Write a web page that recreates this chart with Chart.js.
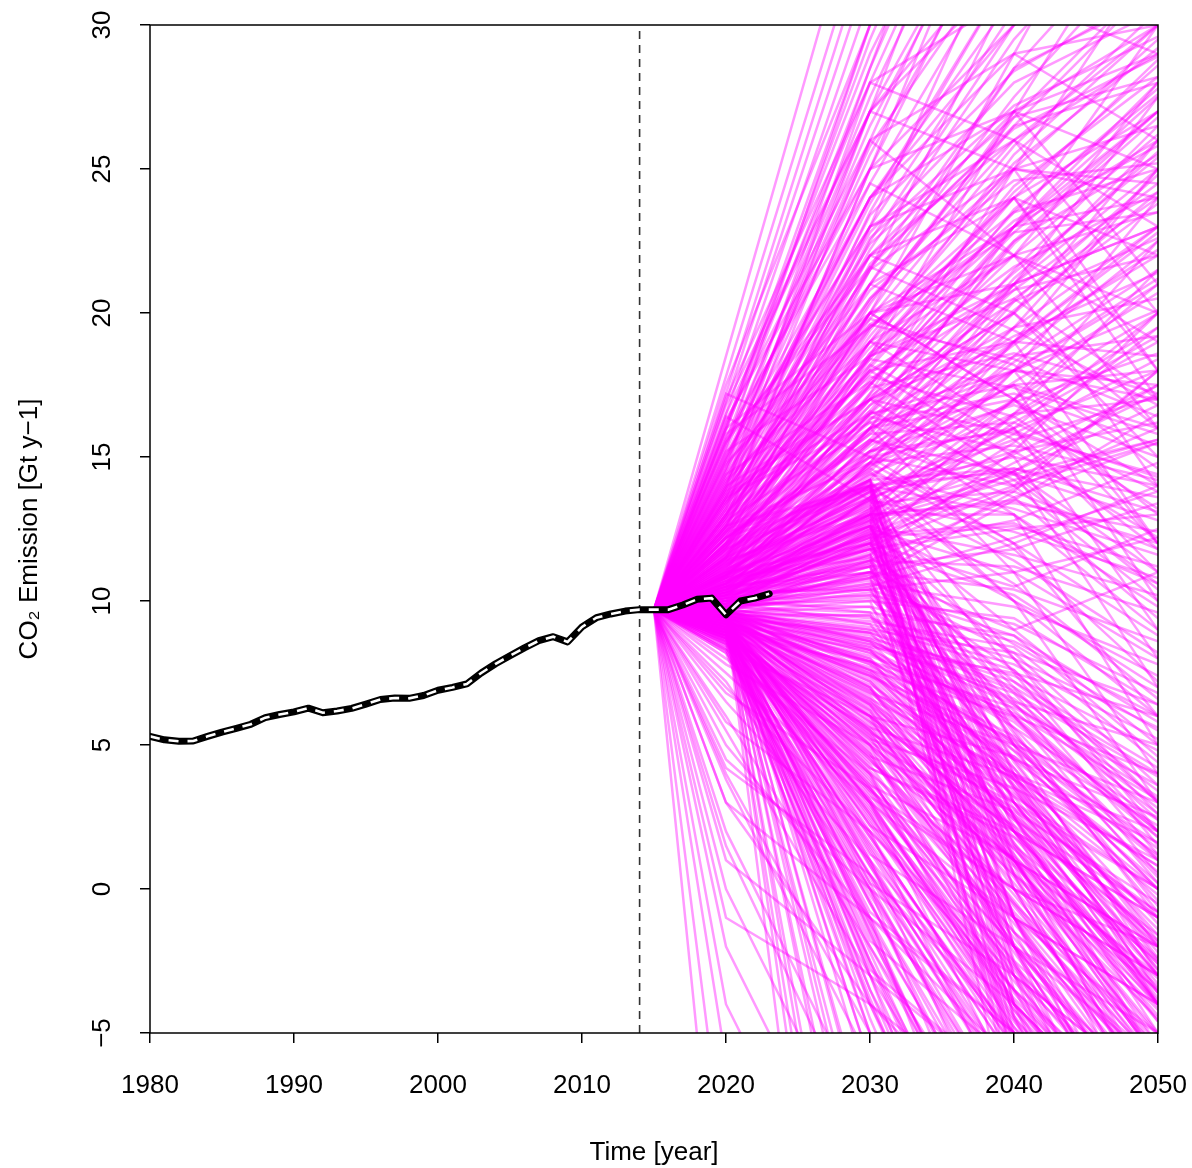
<!DOCTYPE html>
<html lang="en">
<head>
    <meta charset="UTF-8">
    <title>CO2 Emission scenarios</title>
    <script src="https://cdn.jsdelivr.net/npm/chart.js"></script>
    <style>
        body {
            margin: 0;
            padding: 0;
            background: #ffffff;
        }
        #chart {
            display: block;
        }
    </style>
</head>
<body>
    <canvas id="chart" width="1192" height="1168"></canvas>

    <script>
        // Observed emissions
        const histYears = [1980, 1981, 1982, 1983, 1984, 1985, 1986, 1987, 1988, 1989,
                           1990, 1991, 1992, 1993, 1994, 1995, 1996, 1997, 1998, 1999,
                           2000, 2001, 2002, 2003, 2004, 2005, 2006, 2007, 2008, 2009,
                           2010, 2011, 2012, 2013, 2014, 2015, 2016, 2017, 2018, 2019,
                           2020, 2021, 2022, 2023];
        const histValues = [5.30, 5.18, 5.13, 5.14, 5.30, 5.45, 5.58, 5.72, 5.95, 6.06,
                            6.15, 6.28, 6.12, 6.18, 6.27, 6.42, 6.58, 6.63, 6.62, 6.72,
                            6.90, 7.00, 7.12, 7.50, 7.82, 8.10, 8.37, 8.62, 8.76, 8.58,
                            9.10, 9.42, 9.55, 9.65, 9.70, 9.70, 9.70, 9.86, 10.06, 10.10,
                            9.52, 10.00, 10.10, 10.25];

        const cutYear = 2014;

        // Scenario fan: every line starts from the 2015 value
        const fanYears = [2015, 2020, 2030, 2040, 2050];
        const fanStart = 9.7;
        // values for 2020, 2030, 2040, 2050
        const fanRows = [
            // growth
            [18.5, 36, 52, 68], [17.8, 34, 50, 64], [17.2, 33, 47, 60], [16.5, 31, 44, 56],
            [16.0, 30, 42, 52], [15.6, 28.5, 40, 50], [15.2, 27.5, 38, 47], [14.8, 26.5, 36, 44],
            [14.5, 25.5, 34.5, 42], [14.1, 24.5, 33, 40], [13.8, 23.8, 32, 38.5], [13.5, 23, 30.5, 37],
            [13.2, 22.2, 29.5, 35], [13.0, 21.5, 28.5, 34], [12.8, 21, 27.5, 33], [12.6, 20.4, 26.5, 31.5],
            [12.4, 19.8, 25.8, 30.5], [12.2, 19.2, 25, 29.5], [12.0, 18.6, 24.2, 28.6], [11.8, 18.1, 23.5, 27.8],
            [11.7, 17.6, 22.8, 27], [11.5, 17.2, 22, 26.2], [11.4, 16.8, 21.4, 25.4], [11.2, 16.3, 20.8, 24.5],
            [11.1, 15.9, 20.1, 23.8], [11.0, 15.5, 19.5, 23], [10.9, 15.1, 18.9, 22.2], [10.8, 14.7, 18.3, 21.5],
            [10.7, 14.3, 17.6, 20.7], [10.6, 13.9, 17, 20], [10.5, 13.5, 16.4, 19.2], [10.4, 13.1, 15.8, 18.4],
            [10.3, 12.7, 15.1, 17.5], [10.2, 12.3, 14.5, 16.8], [10.1, 11.9, 13.9, 16],
            [17.5, 30, 38, 42], [16.8, 27, 33, 35], [15.9, 29.5, 41, 48], [14.0, 28, 39, 49],
            [13.6, 26, 37, 45], [15.0, 24, 31, 36], [16.2, 26, 29, 30], [14.4, 22, 27, 29],
            [13.3, 25, 35, 43], [12.9, 23.5, 32, 36], [12.5, 22.5, 30, 34.5], [12.3, 21, 28.5, 31],
            [11.9, 20, 27, 30], [13.9, 20, 23, 24], [14.7, 21, 24, 22], [12.7, 18, 21, 23],
            [11.6, 19, 25.5, 30], [11.3, 18.2, 24, 28.8], [10.9, 17, 23, 27.5], [10.6, 16, 21.5, 26.5],
            [10.4, 15.2, 20, 24.2], [10.2, 14.2, 18.5, 22.5], [10.0, 13.2, 17, 21], [9.9, 12.4, 15.5, 19.5],
            [16.9, 32, 45, 55], [16.1, 29, 39, 45], [15.4, 27, 36, 41], [14.9, 25.8, 33, 37], [14.3, 24, 30, 33],
            [13.9, 22.8, 28, 30.5], [13.4, 21.6, 26.5, 28], [12.9, 20.5, 25, 26.5], [12.5, 19.5, 23.5, 25], [12.1, 18.6, 22, 23.5],
            [11.8, 17.7, 20.8, 22], [11.5, 16.8, 19.5, 20.5], [11.2, 16, 18.5, 19.2], [10.9, 15.2, 17.5, 18], [10.6, 14.4, 16.5, 17],
            [15.3, 30, 45, 58], [14.6, 28.5, 42, 55], [13.9, 27, 40, 52], [13.2, 25, 37, 48], [12.6, 23, 34, 45],
            [12.0, 21.5, 31.5, 41], [11.5, 20, 29, 38], [11.0, 18.5, 27, 35], [10.6, 17.2, 25, 32.5], [10.3, 16, 23, 30],
            [10.1, 14.8, 21, 27.5], [9.9, 13.6, 19, 25], [9.8, 12.5, 17, 22.5], [9.8, 11.6, 15.2, 20], [9.7, 11, 13.8, 18],
            [17.0, 28, 31, 29], [16.3, 25, 27, 25], [15.1, 23, 26, 23], [14.2, 21.5, 25, 24.5], [13.6, 20.5, 26, 29],
            [13.0, 19.5, 24, 27], [12.4, 18.5, 23, 26], [11.9, 17.5, 22.5, 25.5], [11.3, 16.5, 21, 23], [10.8, 15.5, 20.5, 24],
            [10.5, 14.5, 19, 22.8], [10.2, 13.6, 18, 21.2], [10.0, 12.8, 16.2, 19], [9.9, 12.1, 14.8, 17.2], [9.8, 11.4, 13.6, 15.5],
            [13.6, 23.4, 28.4, 31.2], [13.1, 22.6, 27.2, 29.6], [12.6, 21.7, 26.4, 28.9], [12.2, 20.3, 26.8, 31.8], [11.8, 19.4, 25.2, 29.2],
            [11.5, 18.4, 24.4, 28.2], [11.1, 17.5, 23.6, 27.6], [10.8, 16.6, 22.4, 26.8], [10.5, 15.6, 21.2, 25.6], [10.2, 14.8, 20.4, 24.8],
            // plateau and crossing
            [12.0, 17, 20, 16], [13.0, 19, 18, 12], [11.5, 16, 17, 13], [12.5, 18, 15, 8],
            [14.0, 17, 14, 10], [11.0, 14, 15, 14], [10.8, 13, 13.5, 12], [11.3, 15, 12, 6],
            [12.8, 16, 11, 4], [13.5, 20, 22, 19], [15.5, 22, 20, 15], [14.2, 19, 16, 11],
            [11.8, 14.5, 10, 3], [10.5, 12.5, 11, 8], [10.3, 11.8, 12.5, 13], [16.0, 20, 17, 12],
            [15.2, 18.5, 21, 25], [12.2, 15.5, 19, 22], [11.1, 13.8, 16, 18], [10.7, 12.2, 14, 15.5],
            [13.7, 16.5, 18, 17], [12.6, 14, 13, 9], [17.2, 15, 18, 21], [16.4, 13.5, 16, 20],
            [15.8, 19.5, 23, 27], [14.9, 23, 25, 24], [13.1, 17.5, 23, 28], [12.1, 16.5, 22.5, 27],
            [11.7, 15.8, 21, 26], [10.9, 14.6, 19.5, 25], [10.4, 13, 18, 24], [10.1, 12, 16.5, 21.5],
            [14.5, 24, 27, 21], [13.7, 22, 24, 17], [13.0, 20, 21, 14], [12.3, 18, 19, 12], [11.6, 16.5, 17.5, 10],
            [11.0, 15, 16, 9], [10.6, 14, 14.5, 7], [10.3, 13, 13, 5], [16.5, 27, 25, 18], [15.7, 24.5, 22, 16],
            [12.8, 19, 22, 20], [11.9, 17, 19, 18.5], [11.4, 16, 18, 17.5], [10.9, 14.8, 17.5, 16],
            [15, 26, 22, 28], [14, 24, 29, 26], [16, 28, 26, 30], [13, 22, 26, 20],
            [12, 19, 24, 18], [15.5, 25, 30, 34], [14.6, 27, 32, 31], [13.4, 21, 19, 23],
            [12.7, 20, 17, 14], [11.9, 18.5, 20.5, 17], [13.8, 17, 20, 26], [12.3, 15, 14, 18],
            [11.4, 13, 16.5, 19.5], [10.8, 12, 14.5, 17.5],
            [10.5, 11, 9, 11], [10.2, 10.5, 12, 14], [11.0, 12, 10.5, 12.5], [10.8, 11.5, 8.5, 5.5], [10.1, 10.8, 13.5, 16.5],
            [11.4, 13.2, 14.5, 11], [12.2, 15.2, 16.8, 15], [10.7, 11.8, 10.2, 7],
            [12.9, 18.8, 23.2, 25.8], [12.4, 17.9, 21.6, 24.2], [12.0, 17.1, 20.4, 22.6], [11.6, 16.3, 19.2, 21.4], [11.2, 15.4, 18.0, 20.1],
            [10.9, 14.7, 16.9, 18.6], [10.6, 13.8, 15.6, 17.1], [10.3, 12.9, 14.4, 15.6], [13.3, 19.6, 22.8, 23.5], [13.8, 20.8, 24.6, 25.2],
            [14.3, 22.4, 26.8, 28.2], [12.7, 17.4, 18.6, 17.2], [12.2, 16.2, 17.2, 15.4], [11.7, 15.2, 15.9, 14.3], [11.2, 14.2, 14.6, 13.1],
            [10.8, 13.4, 13.8, 11.8], [10.4, 12.3, 12.7, 10.6], [13.5, 17.8, 16.4, 13.2], [14.8, 19.8, 18.2, 14.6], [15.6, 21.6, 19.4, 16.8],
            [11.9, 15.6, 13.6, 9.4], [12.6, 16.6, 14.2, 10.6], [13.2, 18.2, 15.6, 11.8], [11.4, 14.6, 11.8, 7.2], [10.9, 13.6, 10.6, 6.6],
            [10.4, 11.4, 11.2, 9.6], [10.6, 12.2, 12.6, 11.2], [10.9, 13.0, 13.4, 12.4], [11.2, 13.8, 14.6, 13.6], [11.6, 14.8, 15.4, 14.2],
            [12.0, 15.8, 16.2, 13.8], [12.4, 16.4, 15.2, 12.2], [10.3, 11.0, 10.4, 8.6], [10.1, 10.6, 9.8, 7.8], [10.0, 10.2, 9.2, 6.8],
            [9.9, 9.8, 8.6, 6.0], [9.8, 9.4, 8.0, 5.6], [10.7, 12.6, 11.6, 10.2], [11.1, 13.5, 12.4, 10.8], [11.5, 14.4, 13.2, 11.6],
            [12.2, 15.6, 14.4, 12.8], [12.9, 17.0, 15.8, 14.4], [13.4, 18.4, 17.4, 15.8], [14.1, 19.6, 18.4, 16.4], [10.5, 11.8, 12.8, 14.8],
            [10.2, 11.2, 11.8, 13.4], [10.9, 12.8, 14.2, 15.6], [11.3, 13.6, 15.2, 16.2], [9.9, 10.4, 11.0, 12.2], [10.0, 10.8, 12.2, 13.8],
            [12.6, 14.8, 12.0, 8.8], [13.6, 16.2, 13.0, 9.8], [14.4, 17.6, 14.4, 10.4], [11.8, 13.9, 11.4, 8.2], [11.0, 12.6, 10.0, 7.4],
            // peak around 2030, then decline
            [11.5, 14.2, 4, -4], [11.2, 14, 2, -6], [11.0, 13.8, 0, -8], [10.8, 13.5, -2, -10],
            [10.6, 13.2, 3, -3], [10.5, 13, 5, 0], [10.4, 12.8, -4, -12], [10.3, 12.6, 1, -5],
            [10.2, 12.4, 6, 1], [10.1, 12.2, -1, -9], [10.0, 12, 2.5, -4], [9.9, 11.8, 4.5, -2],
            [9.9, 11.5, -3, -11], [9.8, 11.3, 0.5, -7], [9.8, 11, 3, -3], [10.2, 11.8, 7, 2],
            [10.4, 12.5, 8, 3], [10.6, 13, 9, 5], [11.0, 13.5, 7.5, 1.5], [11.4, 14.1, 10, 6],
            [12.0, 14.2, 8, 2], [12.5, 14.0, 5, -3], [9.7, 10.8, -2, -10], [9.7, 10.5, 1, -6],
            [9.8, 10.2, 3.5, -2], [9.6, 10, -1, -8], [9.6, 9.8, 5, 0], [9.5, 9.5, 2, -4],
            [11.3, 14.0, -9, -20], [11.1, 13.7, -6, -16], [10.9, 13.4, -4.5, -14], [10.7, 13.1, -7, -18],
            [10.5, 12.9, -3.5, -12], [10.4, 12.7, -2.5, -11], [10.3, 12.3, -5, -15], [10.2, 12.1, 0, -8],
            [10.0, 11.9, 1.5, -6], [9.9, 11.7, -1.5, -10], [9.8, 11.4, 2.5, -5], [9.8, 11.2, -6, -17],
            [11.6, 14.2, -1, -10], [11.8, 14.1, 1, -7], [12.2, 14.0, 3, -4], [12.4, 13.9, -3, -14],
            [10.8, 13.3, 5.5, -1], [10.6, 12.9, 6.5, 0.5], [10.4, 12.6, 4, -2.5], [10.1, 12.2, 3.5, -3.5],
            [11.9, 14.2, -4, -15], [11.7, 14.0, -2, -12], [11.5, 13.9, 0.5, -9], [11.3, 13.6, 2.5, -6], [11.1, 13.3, -7.5, -19],
            [10.9, 13.1, -1, -11], [10.7, 12.8, 1.2, -8], [10.5, 12.6, -5.5, -16], [10.3, 12.4, 3.8, -3.6], [10.1, 12.0, 5.4, -0.6],
            [10.0, 11.6, -2.6, -12], [9.9, 11.2, 0.8, -7.6], [9.8, 10.9, -4.4, -14], [9.8, 10.6, 4.2, -2.4], [9.7, 10.3, 6.2, 1.8],
            [10.0, 10.4, 8.8, 4.6], [10.1, 10.7, 8.2, 3.6], [10.2, 11.0, 7.6, 2.6], [10.3, 11.3, 6.8, 1.2], [10.4, 11.6, 6.0, 0.2],
            [10.5, 12.0, 5.2, -0.8], [10.6, 12.3, 4.4, -1.8], [10.7, 12.6, 3.6, -2.8], [10.2, 11.4, 7.2, 4.2], [10.0, 10.9, 6.4, 3.2],
            [10.1, 9.6, 3.8, -2.2], [10.3, 10.4, 2.2, -4.6], [10.5, 11.2, 1.6, -5.4], [10.0, 9.2, 2.8, -3.8], [9.8, 8.6, 3.6, -1.4],
            // decline after 2020
            [9.5, 8, 2, -4], [9.4, 7, 0, -6], [9.4, 6, -2, -8], [9.3, 5, -4, -10],
            [9.3, 4, -5, -12], [9.2, 3, -7, -14], [9.2, 2, -8, -16], [9.1, 1, -10, -18],
            [9.0, 0, -12, -20], [9.0, -1, -14, -22], [8.9, -3, -16, -25], [8.8, -5, -20, -28],
            [9.5, 7.5, 4, 0], [9.4, 6.5, 3, -1], [9.3, 5.5, 1, -3], [9.2, 4.5, -1, -5],
            [9.1, 3.5, -2.5, -7], [9.0, 2.5, -4, -9], [8.9, 1.5, -6, -11], [8.8, 0.5, -7, -13],
            [8.7, -0.5, -9, -15], [8.6, -2, -11, -18], [8.5, -3.5, -13, -21], [9.6, 8.5, 6, 2],
            [9.5, 8.2, 5, 1], [9.4, 7.8, 4.5, 2.5], [9.3, 7.2, 2.5, -2], [9.2, 6.3, 1.5, -2.5],
            [9.1, 5.8, 0.5, -3.5], [9.0, 4.8, -1.5, -6], [8.9, 3.8, -3, -8], [8.8, 2.8, -3.5, -9.5],
            [8.7, 1.8, -5.5, -12], [8.6, 0.8, -6.5, -13.5], [8.5, -0.2, -8, -15], [8.4, -1.2, -9.5, -17],
            [8.3, -2.5, -12, -19], [8.2, -4, -14, -23], [9.5, 6.8, 5, 3], [9.4, 5.2, 3.5, 1],
            [9.3, 4.2, 2, -1], [9.2, 3.2, 0, -2], [9.1, 2.2, -1, -4], [9.0, 1.2, -2, -5],
            [8.9, 0.2, -3, -7], [8.8, -0.8, -5, -9], [8.7, -1.8, -6, -11], [8.6, -2.8, -7, -12],
            [9.6, 9, 7, 4], [9.5, 8.8, 6.5, 5], [9.4, 8.4, 7.5, 6], [9.3, 7.6, 6, 4],
            [9.2, 6.6, 4, 2], [9.1, 5.4, 3, 0], [9.0, 4.4, 1, -2], [8.9, 3.4, 0, -3],
            [9.6, -20, -40, -50], [9.5, -12, -30, -40], [9.4, -8.6, -22, -30], [9.5, -5, -16, -25], [9.4, -3, -14, -22],
            [9.3, -1.6, -11, -19], [9.2, -0.5, -9.5, -16], [9.5, 0.4, -8, -14], [9.4, 1, -7, -13], [9.3, 1.4, -6, -12],
            [9.2, 1.8, -5.5, -11], [9.6, 2.2, -5, -10], [9.5, 2.6, -4.5, -9.5], [9.4, 3, -4, -9], [9.3, 3.3, -3.5, -8.5],
            [9.2, 3.7, -2, -7.5], [9.1, 4.1, -1.5, -6.5], [9.0, 4.5, -0.5, -5.5], [8.9, 4.9, 0.5, -4.5], [8.8, 5.3, 1, -4],
            [9.6, 0.2, -9, -17], [9.5, 0.8, -7.5, -14], [9.4, 1.3, -6.5, -12.5], [9.3, 1.9, -5.8, -11.5], [9.2, 2.4, -4.8, -10],
            [9.1, 2.9, -4.2, -9.8], [9.0, 3.4, -3.2, -8.8], [8.9, 0.9, -6.8, -13], [8.8, 1.6, -5.2, -11], [8.7, 2.3, -4.6, -10.2],
            [8.6, 2.7, -3.8, -9], [8.5, 3.1, -2.7, -8], [8.4, 0, -8.5, -16], [8.3, -1, -10, -18], [8.2, 0.5, -7.2, -14],
            [9.6, -1.5, -12, -21], [9.5, -2.5, -13, -23], [9.4, -4, -15, -26], [9.3, -6, -18, -30], [9.2, -10, -26, -36],
            [9.6, -15, -35, -45], [9.5, -25, -45, -55], [9.4, -30, -50, -60], [9.6, 5.5, -2, -8], [9.5, 6.2, -0.8, -6],
            [9.4, 5.8, 2.8, -0.8], [9.3, 6.9, 3.8, 0.8], [9.2, 7.4, 5.2, 2.2], [9.1, 7.9, 6.3, 3.6], [9.0, 6, 4.6, 1.2],
            [8.9, 5.1, 2.2, -1.6], [8.8, 4.2, 1.8, -2.4], [8.7, 3.6, 1.1, -3.1], [8.6, 4.6, 2.7, -0.5], [8.5, 5.6, 3.9, 1.6],
            [9.7, 7, 1, -6], [9.6, 6.4, -0.5, -7], [9.5, 5.9, -1, -7.5], [9.4, 5.3, -2.2, -9], [9.3, 4.7, -3, -10],
            [9.2, 4.3, -2.6, -8.4], [9.1, 3.9, -3.6, -9.6], [9.0, 3.6, -4.2, -11], [8.9, 3.1, -4.8, -11.6], [8.8, 2.6, -5.4, -12.4],
            [9.7, 7.8, 3.2, -2.8], [9.6, 7.3, 2.1, -3.9], [9.5, 6.7, 1.2, -4.6], [9.4, 6.1, 0.2, -5.8], [9.3, 5.6, -0.6, -6.6],
            [9.2, 5.0, -1.2, -7.1], [9.1, 4.6, -1.9, -7.9], [9.0, 4.0, -2.8, -8.7], [8.9, 3.5, -3.9, -10.3], [8.8, 3.0, -4.4, -10.9],
            [9.7, 8.3, 4.2, -1.2], [9.6, 7.9, 3.4, -1.9], [9.5, 7.4, 2.6, -3.3], [9.4, 6.9, 1.6, -4.1], [9.3, 6.4, 0.9, -5.1],
            [9.6, 8.7, 5.6, 0.4], [9.5, 8.4, 4.8, -0.4], [9.4, 8.0, 3.9, -1.6], [9.3, 7.5, 3.0, -2.6], [9.2, 7.0, 2.0, -3.6],
            [9.1, 6.5, 1.4, -4.4], [9.0, 6.2, 0.6, -5.4], [8.9, 5.7, -0.2, -6.2], [8.8, 5.2, -0.9, -6.9], [8.7, 4.7, -1.7, -7.7],
            [9.6, 8.9, 7.2, 3.4], [9.5, 8.6, 6.4, 2.6], [9.4, 8.2, 5.8, 1.8], [9.3, 7.9, 5.3, 1.1], [9.2, 7.6, 4.6, 0.2],
            [9.7, 9.2, 7.8, 5.2], [9.6, 9.0, 8.2, 6.4], [9.5, 8.7, 7.4, 4.8], [9.4, 8.5, 6.8, 3.9], [9.3, 8.1, 6.1, 3.1],
            [9.6, 8.6, 6.6, 2.8], [9.5, 8.3, 5.9, 2.0], [9.4, 7.9, 5.1, 1.4], [9.3, 7.4, 4.5, 0.6], [9.2, 7.1, 3.8, -0.2],
            [9.1, 6.8, 3.3, -1.0], [9.0, 6.4, 2.6, -1.8], [8.9, 6.0, 2.0, -2.6], [8.8, 5.5, 1.4, -3.4], [8.7, 5.0, 0.8, -4.2],
            [9.7, 9.3, 8.4, 4.4], [9.6, 9.1, 7.6, 3.0], [9.5, 8.9, 6.9, 2.4], [9.8, 9.6, 8.8, 5.8], [9.9, 10.0, 9.4, 6.4],
            [9.8, 10.1, 5.6, 2.4], [9.6, 9.5, 4.8, 1.6], [9.4, 8.9, 4.0, 0.8], [9.2, 8.3, 3.2, 0.0], [9.0, 7.7, 2.4, -0.8],
            [9.5, 6.6, 1.0, -5.6], [9.4, 6.0, 0.4, -6.2], [9.3, 5.4, -0.4, -6.8], [9.7, 7.6, 2.4, -3.0], [9.6, 7.2, 1.8, -3.6],
            [9.6, -7, -20, -28], [9.5, -6, -18, -27], [9.4, -4.5, -16, -24], [9.3, -3.5, -15, -23], [9.2, -2.2, -13, -21],
            [9.1, -1.2, -12, -20], [9.0, -0.4, -10.5, -18], [8.9, -2.6, -13.5, -22], [8.8, -1.4, -11.5, -19], [8.7, -3.8, -15.5, -24],
            [9.6, -9, -24, -32], [9.5, -11, -27, -35], [9.4, -14, -32, -42], [9.3, -18, -38, -48], [9.2, -22, -42, -52],
            // steep early decline
            [6, -2, -10, -15], [4, -5, -12, -18], [2, -8, -15, -20], [0, -10, -18, -24],
            [-2, -12, -20, -25], [-6, -15, -22, -28], [-10, -20, -25, -30], [-15, -25, -30, -32],
            [7, 2, -3, -7], [7.5, 3, -1, -4], [8, 4, 0, -3], [6.5, 1, -5, -10],
            [5, -1, -6, -12], [3, -4, -9, -14], [8.3, 6, 2, -1], [7.8, 5, 1, -2],
            [3, -1, -5, -8], [1, -3, -7, -10], [-1, -4, -8, -12], [4.5, 0, -4, -9],
            [7.2, 0, -8, -13], [5.5, -3, -11, -16], [3.8, -6, -13, -19], [1.5, -9, -16, -22], [-4, -14, -21, -27],
            [6.8, 3.5, -2, -6], [5.8, 2, -3.5, -8], [4.2, 0.5, -5, -9.5]
        ];

        const xTicks = [1980, 1990, 2000, 2010, 2020, 2030, 2040, 2050];
        const yTicks = [-5, 0, 5, 10, 15, 20, 25, 30];

        const FONT = "'Liberation Sans', Arial, sans-serif";

        const datasets = [];

        // black line with white dashes on top
        const histPoints = histYears.map((yr, i) => ({ x: yr, y: histValues[i] }));
        datasets.push({
            data: histPoints,
            borderColor: '#ffffff',
            borderWidth: 2.6,
            borderDash: [10, 9],
            pointRadius: 0,
            order: -1
        });
        datasets.push({
            data: histPoints,
            borderColor: '#000000',
            borderWidth: 7,
            pointRadius: 0,
            borderCapStyle: 'round',
            borderJoinStyle: 'round',
            order: 0
        });

        fanRows.forEach(row => {
            const vals = [fanStart].concat(row);
            datasets.push({
                data: fanYears.map((yr, i) => ({ x: yr, y: vals[i] })),
                borderColor: 'rgba(255, 0, 255, 0.4)',
                borderWidth: 2.5,
                pointRadius: 0,
                order: 1
            });
        });

        datasets.push({
            data: [{ x: cutYear, y: -5 }, { x: cutYear, y: 30 }],
            borderColor: '#333333',
            borderWidth: 1.6,
            borderDash: [8, 6],
            pointRadius: 0,
            order: 3
        });

        // R-style box round the plot area
        const boxPlugin = {
            id: 'box',
            afterDraw(chart) {
                const a = chart.chartArea;
                const c = chart.ctx;
                c.save();
                c.strokeStyle = '#000';
                c.lineWidth = 1.5;
                c.strokeRect(a.left, a.top, a.right - a.left, a.bottom - a.top);
                c.restore();
            }
        };

        const ctx = document.getElementById('chart').getContext('2d');
        new Chart(ctx, {
            type: 'line',
            data: { datasets },
            plugins: [boxPlugin],
            options: {
                responsive: false,
                animation: false,
                layout: { padding: { top: 25, right: 34, left: 0, bottom: 0 } },
                plugins: {
                    legend: { display: false },
                    tooltip: { enabled: false }
                },
                scales: {
                    x: {
                        type: 'linear',
                        min: 1980,
                        max: 2050,
                        afterBuildTicks: s => { s.ticks = xTicks.map(v => ({ value: v })); },
                        afterFit: s => { s.height = 135; s.paddingLeft = 0; s.paddingRight = 0; },
                        grid: { drawOnChartArea: false, drawTicks: true, tickLength: 10, color: '#000', lineWidth: 1.5 },
                        border: { display: false },
                        ticks: {
                            color: '#000',
                            padding: 27,
                            font: { family: FONT, size: 26 },
                            callback: v => String(v)
                        },
                        title: {
                            display: true,
                            text: 'Time [year]',
                            color: '#000',
                            font: { family: FONT, size: 26 },
                            padding: { top: 0, bottom: 0 }
                        }
                    },
                    y: {
                        type: 'linear',
                        min: -5,
                        max: 30,
                        afterBuildTicks: s => { s.ticks = yTicks.map(v => ({ value: v })); },
                        afterFit: s => { s.width = 150; s.paddingTop = 0; s.paddingBottom = 0; },
                        grid: { drawOnChartArea: false, drawTicks: true, tickLength: 10, color: '#000', lineWidth: 1.5 },
                        border: { display: false },
                        ticks: {
                            color: '#000',
                            padding: 22,
                            minRotation: 90,
                            maxRotation: 90,
                            crossAlign: 'center',
                            font: { family: FONT, size: 26 },
                            callback: v => String(v).replace('-', '\u2212')
                        },
                        title: {
                            display: true,
                            text: 'CO\u2082 Emission [Gt y\u22121]',
                            color: '#000',
                            font: { family: FONT, size: 26 },
                            padding: { top: 14, bottom: 0 }
                        }
                    }
                }
            }
        });
    </script>
</body>
</html>
